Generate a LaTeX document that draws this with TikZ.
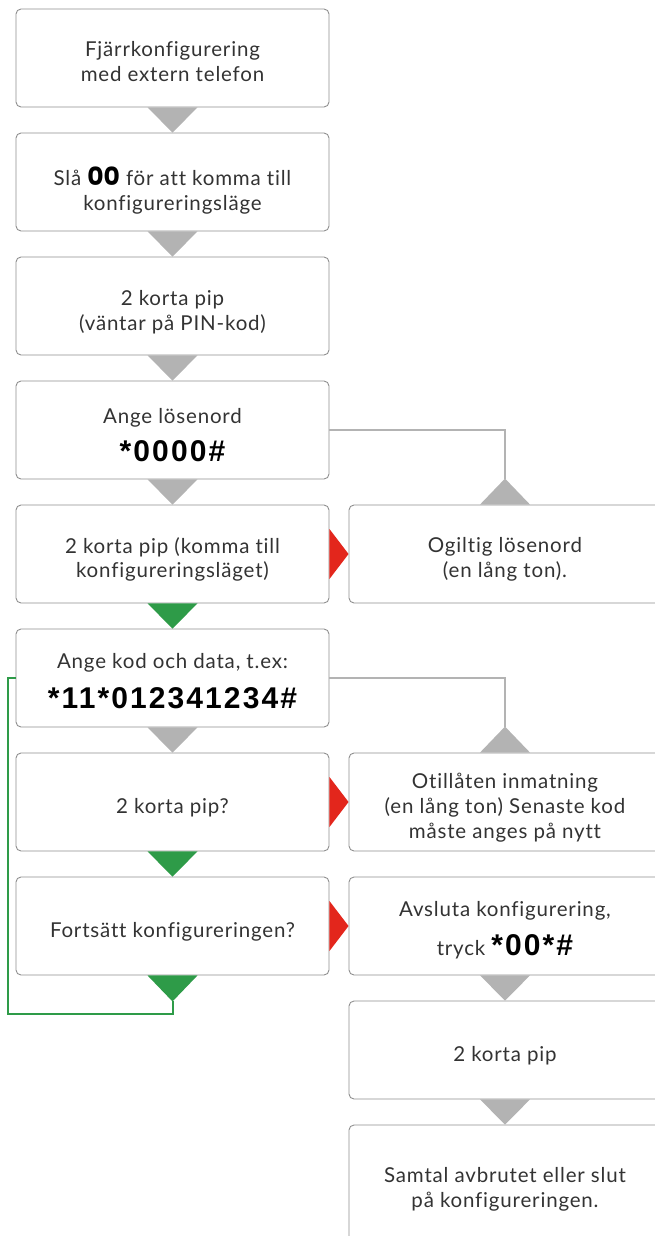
\documentclass[tikz,border=0pt]{standalone}
\usepackage{fontspec}
\setmainfont{Lato}[LetterSpace=4,Ligatures=NoCommon]
\newfontfamily\codefont{Liberation Sans}[LetterSpace=7]
\newfontfamily\zerofont{Poppins}
\usetikzlibrary{calc}
\definecolor{boxgray}{HTML}{8F8F8F}
\definecolor{arrgray}{HTML}{B3B3B3}
\definecolor{arrred}{HTML}{E3261C}
\definecolor{arrgreen}{HTML}{2E9B48}
\definecolor{txt}{HTML}{333333}
\begin{document}
\begin{tikzpicture}[x=1pt,y=-1pt,
  box/.style={draw=boxgray, line width=0.9pt, rounded corners=5pt, minimum width=313pt, minimum height=98pt, inner sep=0pt, fill=white},
  rbox/.style={box, minimum width=312pt},
  lbl/.style={anchor=base, inner sep=0pt, text=txt, font=\fontsize{20.5}{24}\selectfont},
  code/.style={anchor=base, inner sep=0pt, text=black, font=\codefont\bfseries\fontsize{30}{32}\selectfont},
  garr/.style={fill=arrgray},
  rarr/.style={fill=arrred},
  narr/.style={fill=arrgreen},
  gline/.style={draw=arrgray, line width=2pt},
  nline/.style={draw=arrgreen, line width=2pt}]
\useasboundingbox (0,0) rectangle (655,1236);
\clip (0,0) rectangle (655,1236);

% left column boxes
\node[box] (b1) at (172.5,58) {};
\node[box] (b2) at (172.5,182) {};
\node[box] (b3) at (172.5,306) {};
\node[box] (b4) at (172.5,430) {};
\node[box] (b5) at (172.5,554) {};
\node[box] (b6) at (172.5,678) {};
\node[box] (b7) at (172.5,802) {};
\node[box] (b8) at (172.5,926) {};
% right column boxes
\node[rbox] (r1) at (505,554) {};
\node[rbox] (r2) at (505,802) {};
\node[rbox] (r3) at (505,926) {};
\node[rbox] (r4) at (505,1050) {};
\node[rbox, minimum height=140pt] (r5) at (505,1195) {};

% texts
\node[lbl] (t1a) at (172.5,57) {Fjärrkonfigurering};
\node[lbl] (t1b) at (172.5,82) {med extern telefon};
\node[lbl] (t2a) at (172.5,185) {Slå {\zerofont\bfseries\fontsize{25}{25}\selectfont\color{black}00} för att komma till};
\node[lbl] (t2b) at (172.5,210) {konfigureringsläge};
\node[lbl] (t3a) at (172.5,305) {2 korta pip};
\node[lbl] (t3b) at (172.5,330) {(väntar på PIN-kod)};
\node[lbl] (t4a) at (172.5,423) {Ange lösenord};
\node[code] (t4b) at (172.5,461) {*0000\#};
\node[lbl] (t5a) at (172.5,553) {2 korta pip (komma till};
\node[lbl] (t5b) at (172.5,577) {konfigureringsläget)};
\node[lbl] (t6a) at (172.5,668) {Ange kod och data, t.ex:};
\node[code] (t6b) at (172.5,708) {*11*012341234\#};
\node[lbl] (t7a) at (172.5,813) {2 korta pip?};
\node[lbl] (t8a) at (172.5,937) {Fortsätt konfigureringen?};
\node[lbl] (u1a) at (505,552) {Ogiltig lösenord};
\node[lbl] (u1b) at (505,577) {(en lång ton).};
\node[lbl] (u2a) at (505,788) {Otillåten inmatning};
\node[lbl] (u2b) at (505,813) {(en lång ton) Senaste kod};
\node[lbl] (u2c) at (505,838) {måste anges på nytt};
\node[lbl] (u3a) at (505,916) {Avsluta konfigurering,};
\node[lbl] (u3b) at (505,955) {tryck {\codefont\bfseries\fontsize{30}{32}\selectfont\color{black}*00*\#}};
\node[lbl] (u4a) at (505,1061) {2 korta pip};
\node[lbl] (u5a) at (505,1182) {Samtal avbrutet eller slut};
\node[lbl] (u5b) at (505,1207) {på konfigureringen.};

% down arrows (gray)
\fill[garr] ($(b1.south)+(-25,0)$) -- ($(b1.south)+(25,0)$) -- (b2.north) -- cycle;
\fill[garr] ($(b2.south)+(-25,0)$) -- ($(b2.south)+(25,0)$) -- (b3.north) -- cycle;
\fill[garr] ($(b3.south)+(-25,0)$) -- ($(b3.south)+(25,0)$) -- (b4.north) -- cycle;
\fill[garr] ($(b4.south)+(-25,0)$) -- ($(b4.south)+(25,0)$) -- (b5.north) -- cycle;
\fill[garr] ($(b6.south)+(-25,0)$) -- ($(b6.south)+(25,0)$) -- (b7.north) -- cycle;
\fill[garr] ($(r3.south)+(-25,0)$) -- ($(r3.south)+(25,0)$) -- (r4.north) -- cycle;
\fill[garr] ($(r4.south)+(-25,0)$) -- ($(r4.south)+(25,0)$) -- (r5.north) -- cycle;
% green arrows
\fill[narr] ($(b5.south)+(-25,0)$) -- ($(b5.south)+(25,0)$) -- (b6.north) -- cycle;
\fill[narr] ($(b7.south)+(-25,0)$) -- ($(b7.south)+(25,0)$) -- (b8.north) -- cycle;
\coordinate (gt) at ($(b8.south)+(0,26)$);
\fill[narr] ($(b8.south)+(-25,0)$) -- ($(b8.south)+(25,0)$) -- (gt) -- cycle;
% red arrows
\fill[rarr] ($(b5.east)+(0,-25)$) -- ($(b5.east)+(0,25)$) -- (r1.west) -- cycle;
\fill[rarr] ($(b7.east)+(0,-25)$) -- ($(b7.east)+(0,25)$) -- (r2.west) -- cycle;
\fill[rarr] ($(b8.east)+(0,-25)$) -- ($(b8.east)+(0,25)$) -- (r3.west) -- cycle;
% gray side connectors with up arrows
\coordinate (up1) at ($(r1.north)+(0,-26)$);
\draw[gline] (b4.east) -| (up1);
\fill[garr] ($(r1.north)+(-25,0)$) -- ($(r1.north)+(25,0)$) -- (up1) -- cycle;
\coordinate (up2) at ($(r2.north)+(0,-26)$);
\draw[gline] (b6.east) -| (up2);
\fill[garr] ($(r2.north)+(-25,0)$) -- ($(r2.north)+(25,0)$) -- (up2) -- cycle;
% green loop
\coordinate (gc) at (8,1014);
\draw[nline] (gt) |- (gc) |- (b6.west);
\end{tikzpicture}
\end{document}
